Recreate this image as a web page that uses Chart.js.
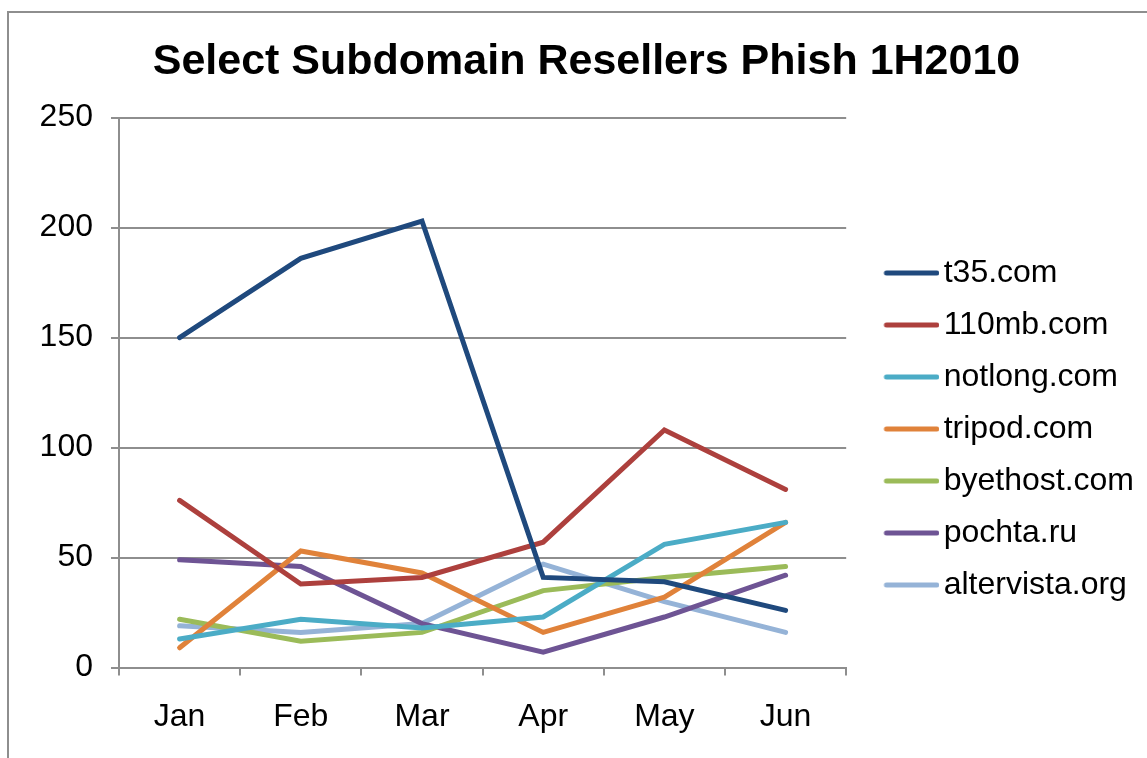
<!DOCTYPE html>
<html>
<head>
<meta charset="utf-8">
<script src="https://cdn.jsdelivr.net/npm/chart.js@4"></script>
<style>
  html, body { margin: 0; padding: 0; background: #fff; }
  #wrap { position: relative; width: 1147px; height: 758px; }
  #frame { position: absolute; left: 7px; top: 11px; right: 0; bottom: 0;
           border-top: 2px solid #8e8e8e; border-left: 2px solid #8e8e8e; }
  #chart { position: absolute; left: 0; top: 0; }
</style>
</head>
<body>
<div id="wrap">
  <div id="frame"></div>
  <canvas id="chart" width="1147" height="758"></canvas>
</div>
<script>
const months = ['Jan', 'Feb', 'Mar', 'Apr', 'May', 'Jun'];

const t35 = [150, 186, 203, 41, 39, 26];
const mb110 = [76, 38, 41, 57, 108, 81];
const notlong = [13, 22, 18, 23, 56, 66];
const tripod = [9, 53, 43, 16, 32, 66];
const byethost = [22, 12, 16, 35, 41, 46];
const pochta = [49, 46, 20, 7, 23, 42];
const altervista = [19, 16, 20, 47, 30, 16];

const series = [
  { label: 't35.com', data: t35, color: '#1f497d' },
  { label: '110mb.com', data: mb110, color: '#ad403d' },
  { label: 'notlong.com', data: notlong, color: '#4bacc6' },
  { label: 'tripod.com', data: tripod, color: '#e0823a' },
  { label: 'byethost.com', data: byethost, color: '#9bbb59' },
  { label: 'pochta.ru', data: pochta, color: '#6e5494' },
  { label: 'altervista.org', data: altervista, color: '#95b3d7' }
];

// legend line sample: a short thick stroke sitting close to the label text
function lineSample(color) {
  const c = document.createElement('canvas');
  c.width = 85;
  c.height = 8;
  const g = c.getContext('2d');
  g.strokeStyle = color;
  g.lineWidth = 5;
  g.lineCap = 'round';
  g.beginPath();
  g.moveTo(32, 4);
  g.lineTo(82.5, 4);
  g.stroke();
  return c;
}

Chart.defaults.font.family = '"Liberation Sans", Arial, sans-serif';
Chart.defaults.color = '#000';

new Chart(document.getElementById('chart'), {
  type: 'line',
  data: {
    labels: months,
    datasets: series.map(s => ({
      label: s.label,
      data: s.data,
      borderColor: s.color,
      backgroundColor: s.color,
      borderWidth: 5,
      pointRadius: 0,
      tension: 0,
      borderCapStyle: 'round',
      borderJoinStyle: 'miter'
    }))
  },
  options: {
    responsive: false,
    animation: false,
    layout: { padding: { left: 29, right: 3, top: 36, bottom: 0 } },
    plugins: {
      title: {
        display: true,
        text: 'Select Subdomain Resellers Phish 1H2010',
        font: { size: 43, weight: 'bold' },
        padding: { top: 0, bottom: 30 }
      },
      legend: {
        position: 'right',
        maxWidth: 320,
        title: {
          display: true,
          text: ' ',
          font: { size: 10 },
          padding: { top: 52, bottom: 0 }
        },
        labels: {
          font: { size: 32 },
          usePointStyle: true,
          pointStyleWidth: 61.5,
          boxHeight: 8,
          padding: 20,
          generateLabels: chart => chart.data.datasets.map((ds, i) => ({
            text: ds.label,
            fillStyle: ds.borderColor,
            strokeStyle: ds.borderColor,
            lineWidth: 0,
            pointStyle: lineSample(ds.borderColor),
            datasetIndex: i
          }))
        }
      },
      tooltip: { enabled: false }
    },
    scales: {
      x: {
        offset: true,
        grid: {
          offset: true,
          drawOnChartArea: false,
          color: '#8e8e8e',
          lineWidth: 2,
          tickLength: 8
        },
        border: { color: '#8e8e8e', width: 2 },
        ticks: { font: { size: 32 }, padding: 22, maxRotation: 0 }
      },
      y: {
        min: 0,
        max: 250,
        afterFit: s => { s.width = 90; },
        ticks: { stepSize: 50, font: { size: 32 }, padding: 18 },
        grid: { color: '#8e8e8e', lineWidth: 2, tickLength: 8 },
        border: { color: '#8e8e8e', width: 2 }
      }
    }
  }
});
</script>
</body>
</html>
